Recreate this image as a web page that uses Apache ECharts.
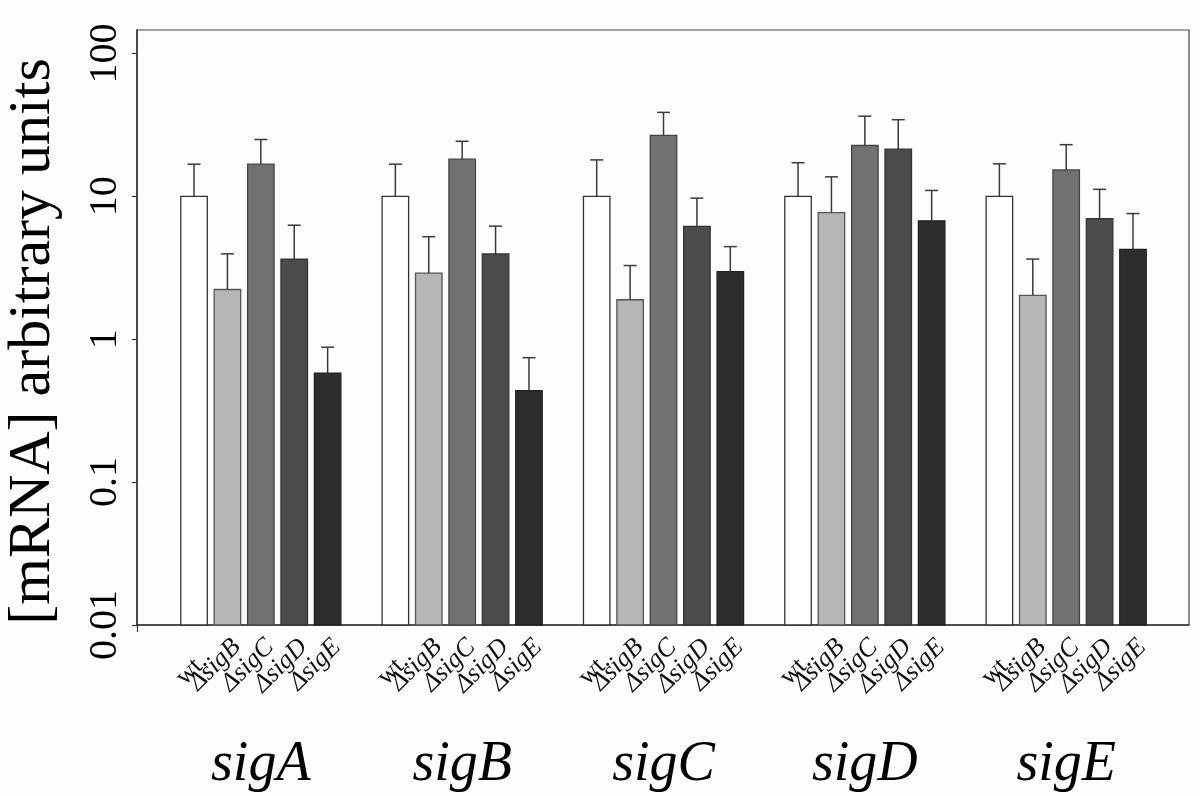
<!DOCTYPE html>
<html><head><meta charset="utf-8">
<script src="https://cdn.jsdelivr.net/npm/echarts@6/dist/echarts.min.js"></script>
<style>html,body{margin:0;padding:0;background:#fdfdfb}#c{width:1200px;height:796px}</style>
</head><body><div id="c"></div>
<script>
// ---- data ----
const groups = ['sigA', 'sigB', 'sigC', 'sigD', 'sigE'];
const strains = ['wt.', 'ΔsigB', 'ΔsigC', 'ΔsigD', 'ΔsigE'];
const wtVals    = [10, 10, 10, 10, 10];
const dSigBVals = [2.23, 2.90, 1.89, 7.7, 2.03];
const dSigCVals = [16.8, 18.2, 26.7, 22.7, 15.3];
const dSigDVals = [3.64, 3.95, 6.17, 21.4, 6.97];
const dSigEVals = [0.58, 0.436, 2.97, 6.74, 4.26];
// upper end of the error bars
const wtErr    = [16.8, 16.8, 18.0, 17.2, 16.9];
const dSigBErr = [3.96, 5.22, 3.28, 13.7, 3.64];
const dSigCErr = [25.0, 24.3, 38.7, 36.4, 23.0];
const dSigDErr = [6.28, 6.19, 9.72, 34.4, 11.2];
const dSigEErr = [0.88, 0.743, 4.45, 11.0, 7.58];
const yTicks = [0.01, 0.1, 1, 10, 100];
const yTickLabels = ['0.01', '0.1', '1', '10', '100'];

// ---- styling ----
const serif = '"Liberation Serif", "DejaVu Serif", serif';
const fills   = ['#ffffff', '#b5b6b5', '#717171', '#4a4c4b', '#2d2d2d'];
const borders = ['#333333', '#555555', '#444444', '#333333', '#222222'];
const barW = 26.5, pitch = 33.4;
const xMin = -0.615, xMax = 4.61;
const yMin = 0.01, yMax = 146;

const valueSets = [wtVals, dSigBVals, dSigCVals, dSigDVals, dSigEVals];
const errSets = [wtErr, dSigBErr, dSigCErr, dSigDErr, dSigEErr];

function makeSeries(k) {
  return {
    type: 'custom',
    name: strains[k],
    clip: false,
    z: 2,
    data: valueSets[k].map((v, i) => [i, v, errSets[k][i]]),
    renderItem: function (params, api) {
      const top = api.coord([api.value(0), api.value(1)]);
      const base = api.coord([api.value(0), yMin]);
      const err = api.coord([api.value(0), api.value(2)]);
      const cx = top[0] + (k - 2) * pitch;
      const st = { stroke: '#3a3a3a', lineWidth: 1.5 };
      return {
        type: 'group',
        children: [
          {
            type: 'rect',
            shape: { x: cx - barW / 2, y: top[1], width: barW, height: base[1] - top[1] },
            style: { fill: fills[k], stroke: borders[k], lineWidth: 1.3 }
          },
          { type: 'line', shape: { x1: cx, y1: top[1], x2: cx, y2: err[1] }, style: st },
          { type: 'line', shape: { x1: cx - 6.5, y1: err[1], x2: cx + 6.5, y2: err[1] }, style: st },
          {
            type: 'text',
            x: cx, y: base[1] + (k === 0 ? 24 : 9),
            rotation: Math.PI / 4,
            style: {
              text: strains[k], align: 'right', verticalAlign: 'top',
              fontFamily: serif, fontStyle: k === 0 ? 'normal' : 'italic',
              fontSize: 26, lineHeight: 26, fill: '#111'
            }
          }
        ]
      };
    }
  };
}

function yLabel(v) {
  let best = 0, bd = Infinity;
  yTicks.forEach((t, i) => {
    const d = Math.abs(Math.log10(t) - Math.log10(v));
    if (d < bd) { bd = d; best = i; }
  });
  return yTickLabels[best];
}

const chart = echarts.init(document.getElementById('c'), null, { renderer: 'canvas' });
chart.setOption({
  backgroundColor: '#fdfdfb',
  animation: false,
  grid: {
    left: 137, right: 11, top: 30, bottom: 171,
    containLabel: false, outerBoundsMode: 'none',
    show: true, borderColor: '#444', borderWidth: 1.2, backgroundColor: 'transparent'
  },
  xAxis: {
    type: 'value',
    min: xMin, max: xMax,
    splitLine: { show: false },
    axisLine: { show: true, onZero: false, lineStyle: { color: '#333', width: 1.5 } },
    axisTick: { show: true, customValues: [xMin], length: 7, lineStyle: { color: '#333', width: 1.2 } },
    axisLabel: {
      customValues: [0, 1, 2, 3, 4],
      formatter: v => groups[Math.round(v)] || '',
      fontFamily: serif, fontStyle: 'italic', fontSize: 56, lineHeight: 56,
      color: '#000', margin: 112
    }
  },
  yAxis: {
    type: 'log', logBase: 10,
    min: yMin, max: yMax,
    splitLine: { show: false },
    minorTick: { show: false },
    axisLine: { show: true, onZero: false, lineStyle: { color: '#333', width: 1.5 } },
    axisTick: { show: true, customValues: yTicks, length: 5, lineStyle: { color: '#333', width: 1.2 } },
    axisLabel: {
      customValues: yTicks,
      formatter: yLabel,
      rotate: 90, margin: 12,
      fontFamily: serif, fontSize: 40, color: '#000'
    },
    name: '[mRNA] arbitrary units',
    nameLocation: 'middle',
    nameRotate: 90,
    nameGap: 74,
    nameTextStyle: { fontFamily: serif, fontSize: 60, color: '#000', padding: [0, 28, 0, 0] }
  },
  series: [0, 1, 2, 3, 4].map(makeSeries)
});
</script>
</body></html>
